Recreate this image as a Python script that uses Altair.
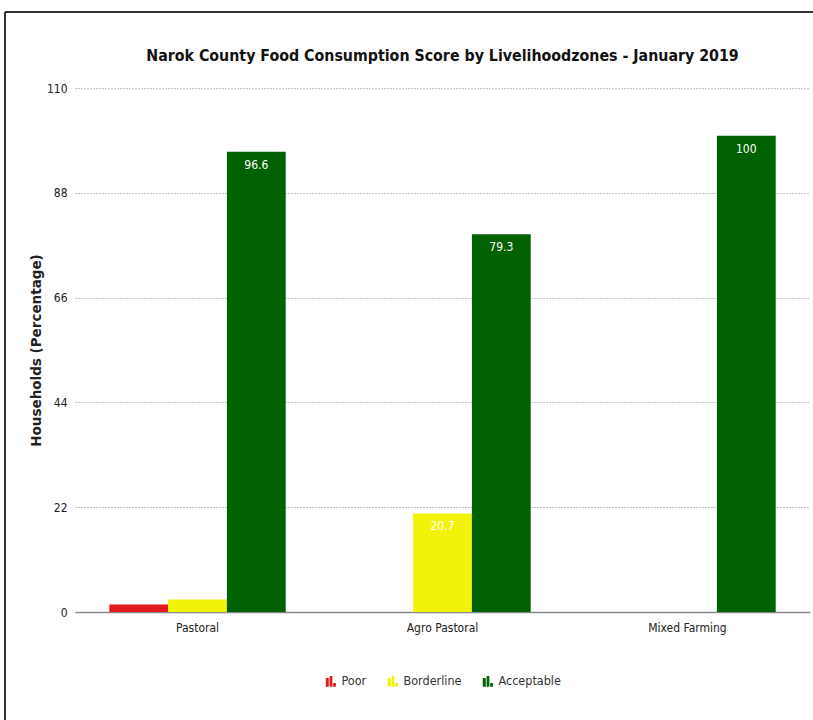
import altair as alt
import pandas as pd

zones = ["Pastoral", "Agro Pastoral", "Mixed Farming"]
categories = ["Poor", "Borderline", "Acceptable"]
poor = [1.6, 0.0, 0.0]
borderline = [2.6, 20.7, 0.0]
acceptable = [96.6, 79.3, 100.0]
colors = ["#e31a1c", "#f2f20a", "#006100"]
y_ticks = [0, 22, 44, 66, 88, 110]

rows = []
for i, z in enumerate(zones):
    for c, vals in zip(categories, [poor, borderline, acceptable]):
        rows.append({"zone": z, "cat": c, "value": vals[i],
                     "label": (f"{vals[i]:g}" if vals[i] >= 10 else "")})
df = pd.DataFrame(rows)

FONT = "'Liberation Sans Narrow', 'DejaVu Sans Condensed', 'Roboto Condensed', 'Liberation Sans', sans-serif"

x = alt.X("zone:N", sort=zones, title=None,
          scale=alt.Scale(paddingInner=0.28, paddingOuter=0.14),
          axis=alt.Axis(labelAngle=0, labelFont=FONT, labelFontSize=12, labelColor="#222",
                        ticks=False, domainColor="#888", domainWidth=1.5, labelPadding=10))
y = alt.Y("value:Q", title="Households (Percentage)",
          scale=alt.Scale(domain=[0, 110], nice=False),
          axis=alt.Axis(values=y_ticks, grid=True, gridDash=[1, 2], gridColor="#888",
                        domain=False, ticks=False, labelFont=FONT, labelFontSize=12,
                        labelColor="#222", labelPadding=8, titleFont="DejaVu Sans",
                        titleFontWeight="bold", titleFontSize=13.5, titleColor="#222",
                        titlePadding=3))
color = alt.Color("cat:N", sort=categories,
                  scale=alt.Scale(domain=categories, range=colors),
                  legend=alt.Legend(title=None, orient="none", direction="horizontal",
                                    legendX=250, legendY=587,
                                    symbolType="M-1,1L-1,-0.6L-0.45,-0.6L-0.45,1ZM-0.3,1L-0.3,-1L0.2,-1L0.2,1ZM0.35,1L0.35,0.3L0.85,0.3L0.85,1Z",
                                    symbolSize=120, symbolStrokeWidth=0,
                                    labelFont=FONT, labelFontSize=12.5, labelColor="#333",
                                    columnPadding=20))

base = alt.Chart(df).encode(x=x, xOffset=alt.XOffset("cat:N", sort=categories))
bars = base.mark_bar().encode(y=y, color=color)
text = base.mark_text(baseline="top", dy=8, color="white", font=FONT, fontSize=12).encode(
    y=alt.Y("value:Q"), text="label:N")

frame_left = alt.Chart(df).mark_rule(color="#333", strokeWidth=1.5).encode(
    x=alt.value(-70), y=alt.value(-76), y2=alt.value(640))
frame_top = alt.Chart(df).mark_rule(color="#333", strokeWidth=1.5).encode(
    x=alt.value(-70), x2=alt.value(740), y=alt.value(-76))

chart = alt.layer(bars, text, frame_left, frame_top).properties(
    width=735, height=524,
    autosize=alt.AutoSizeParams(type="none"),
    padding={"left": 75, "top": 88, "right": 3, "bottom": 108},
    title=alt.TitleParams("Narok County Food Consumption Score by Livelihoodzones - January 2019",
                          font=FONT, fontSize=15.8, fontWeight="bold", color="#111",
                          offset=0, dy=69, baseline="bottom")
).configure_view(stroke=None)

chart.save("out.html", embed_options={"renderer": "svg", "actions": False})
